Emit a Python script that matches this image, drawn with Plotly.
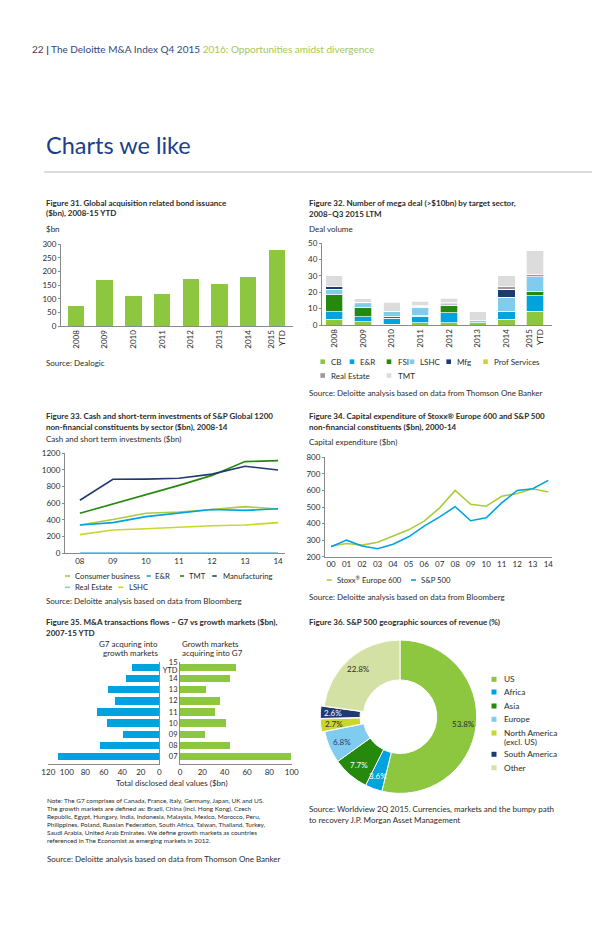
import math
import plotly.graph_objects as go

# The page body adds an 8px margin, so the figure is drawn 8px in and 8px smaller.
OX, OY = 8, 8
FW, FH = 592, 927


def X(px):
    return (px - OX) / FW


def Y(py):
    return 1 - (py - OY) / FH


FONT = "Lato"
TXT = "#2b2b2b"
AXIS = "#8a8a8a"

GREEN = "#8DC63F"
BLUE = "#00A3E0"
DKGREEN = "#26890D"
LTBLUE = "#7FCCEE"
NAVY = "#1F3A70"
YELLOW = "#C9D62E"
GREY = "#97999B"
LTGREY = "#DCDCDC"
PALE = "#D3E2A4"
LIME = "#AACB3C"

# ---------------- data ----------------
# Figure 31
fig31_years = ["2008", "2009", "2010", "2011", "2012", "2013", "2014", "2015<br>YTD"]
fig31_bond_issuance = [72, 169, 110, 118, 173, 153, 180, 279]

# Figure 32 (deal counts by sector)
fig32_years = ["2008", "2009", "2010", "2011", "2012", "2013", "2014", "2015<br>YTD"]
fig32_sectors = ["CB", "E&R", "FSI", "LSHC", "Mfg", "Prof Services", "Real Estate", "TMT"]
fig32_cb = [3.5, 2, 0.5, 1.5, 1.5, 1.5, 3.5, 8.5]
fig32_er = [4.5, 3, 3.5, 4, 6, 0, 4.5, 9.5]
fig32_fsi = [10.5, 6, 1.5, 0.5, 4.5, 0, 0.5, 2.5]
fig32_lshc = [3.5, 2, 2.5, 5, 0.5, 1, 8.5, 9]
fig32_mfg = [1.5, 1, 0.5, 0.5, 0.5, 0, 4.5, 0]
fig32_prof = [0, 0, 0, 0, 0, 0, 0.5, 0]
fig32_realestate = [0, 0, 0, 0.5, 0.5, 0, 1.5, 1.5]
fig32_tmt = [6.5, 2, 5.5, 2.5, 3, 5.5, 6.5, 14.5]

# Figure 33
fig33_years = ["08", "09", "10", "11", "12", "13", "14"]
fig33_consumer = [340, 405, 480, 495, 525, 560, 530]
fig33_er = [340, 368, 440, 485, 525, 515, 535]
fig33_tmt = [480, 590, 700, 815, 935, 1100, 1112]
fig33_mfg = [636, 888, 890, 900, 950, 1045, 1000]
fig33_realestate = [5, 5, 5, 5, 5, 5, 5]
fig33_lshc = [224, 280, 295, 315, 330, 340, 368]

# Figure 34
fig34_years = ["00", "01", "02", "03", "04", "05", "06", "07", "08", "09", "10", "11", "12", "13", "14"]
fig34_stoxx = [265, 280, 270, 287, 325, 362, 415, 495, 600, 516, 505, 565, 582, 610, 590]
fig34_sp500 = [260, 300, 265, 248, 275, 320, 385, 440, 502, 417, 435, 525, 600, 610, 661]

# Figure 35
fig35_years = ["07", "08", "09", "10", "11", "12", "13", "14", "15 YTD"]
fig35_g7_into_growth = [110, 64, 39, 57, 67, 48, 55, 36, 30]
fig35_growth_into_g7 = [99, 45, 22, 41.5, 31.5, 35.5, 23, 45, 50.5]

# Figure 36
fig36_regions = ["US", "Africa", "Asia", "Europe", "North America (excl. US)", "South America", "Other"]
fig36_shares = [53.8, 3.6, 7.7, 6.8, 2.7, 2.6, 22.8]

fig = go.Figure()

# ---------------- Figure 31 ----------------
fig.add_trace(go.Bar(x=fig31_years, y=fig31_bond_issuance, marker_color=GREEN,
                     width=0.57, xaxis="x", yaxis="y", showlegend=False))

# ---------------- Figure 32 ----------------
fig32_series = [fig32_cb, fig32_er, fig32_fsi, fig32_lshc, fig32_mfg,
                fig32_prof, fig32_realestate, fig32_tmt]
fig32_colors = [GREEN, BLUE, DKGREEN, LTBLUE, NAVY, YELLOW, GREY, LTGREY]
for name, vals, col in zip(fig32_sectors, fig32_series, fig32_colors):
    fig.add_trace(go.Bar(x=fig32_years, y=vals, name=name,
                         marker=dict(color=col, line=dict(color="white", width=0.7)),
                         width=0.6, xaxis="x2", yaxis="y2", showlegend=False))

# ---------------- Figure 33 ----------------
fig33_series = [("Real Estate", fig33_realestate, LTBLUE),
                ("LSHC", fig33_lshc, YELLOW),
                ("Consumer business", fig33_consumer, LIME),
                ("E&R", fig33_er, BLUE),
                ("TMT", fig33_tmt, DKGREEN),
                ("Manufacturing", fig33_mfg, NAVY)]
for name, vals, col in fig33_series:
    fig.add_trace(go.Scatter(x=fig33_years, y=vals, name=name, mode="lines",
                             line=dict(color=col, width=1.6), xaxis="x3", yaxis="y3",
                             showlegend=False, cliponaxis=False))

# ---------------- Figure 34 ----------------
fig.add_trace(go.Scatter(x=fig34_years, y=fig34_stoxx, mode="lines", name="Stoxx Europe 600",
                         line=dict(color=LIME, width=1.6), xaxis="x4", yaxis="y4", showlegend=False))
fig.add_trace(go.Scatter(x=fig34_years, y=fig34_sp500, mode="lines", name="S&P 500",
                         line=dict(color=BLUE, width=1.6), xaxis="x4", yaxis="y4", showlegend=False))

# ---------------- Figure 35 ----------------
fig35_pos = list(range(len(fig35_years)))
fig.add_trace(go.Bar(y=fig35_pos, x=fig35_g7_into_growth, orientation="h", marker_color=BLUE,
                     width=0.67, xaxis="x5", yaxis="y5", showlegend=False))
fig.add_trace(go.Bar(y=fig35_pos, x=fig35_growth_into_g7, orientation="h", marker_color=GREEN,
                     width=0.67, xaxis="x6", yaxis="y6", showlegend=False))
# tick labels: two-word labels are split over two lines centred on the bar
f35_tickvals, f35_ticktext = [], []
for p, lab in zip(fig35_pos, fig35_years):
    parts = lab.split(" ")
    if len(parts) == 1:
        f35_tickvals.append(p)
        f35_ticktext.append(lab)
    else:
        f35_tickvals += [p + 0.44, p - 0.31]
        f35_ticktext += parts

# ---------------- Figure 36 ----------------
pie_colors = [GREEN, BLUE, DKGREEN, LTBLUE, YELLOW, NAVY, PALE]
pie_text_colors = [TXT, "white", "white", "#1F3A70", TXT, "white", TXT]
pull = [0, 0, 0, 0, 0.04, 0.04, 0]
HOLE = 0.48
cx, cy, r = 400, 716.7, 76.7
half = r * (1 + max(pull))
fig.add_trace(go.Pie(labels=fig36_regions, values=fig36_shares, hole=HOLE, sort=False,
                     direction="clockwise", rotation=0, pull=pull,
                     marker=dict(colors=pie_colors, line=dict(color="white", width=1)),
                     textinfo="none",
                     domain=dict(x=[X(cx - half), X(cx + half)], y=[Y(cy + half), Y(cy - half)]),
                     showlegend=False, hoverinfo="label+value"))

# ---------------- axes ----------------
tickfont = dict(family=FONT, size=8, color=TXT)


def xax(domain, rng, anchor, **kw):
    d = dict(domain=domain, range=rng, anchor=anchor, showline=True, linecolor=AXIS,
             linewidth=1, showgrid=False, zeroline=False, tickfont=tickfont, ticks="",
             fixedrange=True, automargin=False)
    d.update(kw)
    return d


def yax(domain, rng, anchor, **kw):
    d = dict(domain=domain, range=rng, anchor=anchor, showline=True, linecolor=AXIS,
             linewidth=1, showgrid=False, zeroline=False, tickfont=tickfont,
             ticks="outside", ticklen=2, tickcolor=AXIS, fixedrange=True, automargin=False)
    d.update(kw)
    return d


fig.update_layout(
    xaxis=xax([X(61), X(293)], [-0.52, 7.56], "y", type="category", tickangle=-90),
    yaxis=yax([Y(326), Y(244.3)], [0, 300], "x", dtick=50),
    xaxis2=xax([X(322), X(552)], [-0.43, 7.59], "y2", type="category", tickangle=-90),
    yaxis2=yax([Y(325), Y(243.3)], [0, 50], "x2", dtick=10),
    xaxis3=xax([X(65), X(285)], [-0.45, 6.21], "y3", type="category", layer="below traces"),
    yaxis3=yax([Y(553.3), Y(453.3)], [0, 1200], "x3", dtick=200),
    xaxis4=xax([X(325), X(552)], [-0.39, 14.24], "y4", type="category"),
    yaxis4=yax([Y(556.7), Y(457.3)], [200, 800], "x4", dtick=100),
    xaxis5=xax([X(48.3), X(159.3)], [120, 0], "y5", dtick=20),
    yaxis5=yax([Y(764), Y(661.7)], [-0.65, 8.5], "x5", side="right",
               showticklabels=False, ticks=""),
    xaxis6=xax([X(180), X(291.7)], [0, 100], "y6", dtick=20),
    yaxis6=yax([Y(764), Y(661.7)], [-0.65, 8.5], "x6", side="left", ticks="",
               tickmode="array", tickvals=f35_tickvals, ticktext=f35_ticktext,
               tickfont=dict(family=FONT, size=7.5, color=TXT)),
)

# ---------------- text ----------------
ann = []


def txt(s, x, y, size=8, color=TXT, bold=False, anchor="left"):
    if bold:
        s = "<b>" + s + "</b>"
    ann.append(dict(text=s, x=X(x), y=Y(y), xref="paper", yref="paper", xanchor=anchor,
                    yanchor="middle", showarrow=False, align=anchor,
                    font=dict(family=FONT, size=size, color=color)))


# header
txt("<span style='color:#444444'>22</span> <b style='color:#1F3B73'>|</b> "
    "<span style='color:#2E4A7D'>The Deloitte M&A Index Q4 2015</span> "
    "<span style='color:#A5C65A'>2016: Opportunities amidst divergence</span>",
    30, 49, size=10)
txt("Charts we like", 44, 145, size=23.5, color="#1B3F8B")

# Figure 31
txt("Figure 31. Global acquisition related bond issuance", 44.3, 202.7, bold=True)
txt("($bn), 2008-15 YTD", 44.3, 213.5, bold=True)
txt("$bn", 44.3, 229.3)
txt("Source: Dealogic", 44.3, 363.3)

# Figure 32
txt("Figure 32. Number of mega deal (>$10bn) by target sector,", 307.3, 203.3, bold=True)
txt("2008–Q3 2015 LTM", 307.3, 214, bold=True)
txt("Deal volume", 307.3, 229.3)
txt("Source: Deloitte analysis based on data from Thomson One Banker", 307.3, 392.7)

# Figure 33
txt("Figure 33. Cash and short-term investments of S&P Global 1200", 44.3, 415.7, bold=True)
txt("non-financial constituents by sector ($bn), 2008-14", 44.3, 426.7, bold=True)
txt("Cash and short term investments ($bn)", 44.3, 439.3)
txt("Source: Deloitte analysis based on data from Bloomberg", 44.3, 601)

# Figure 34
txt("Figure 34. Capital expenditure of Stoxx® Europe 600 and S&P 500", 307.3, 415.7, bold=True)
txt("non-financial constituents ($bn), 2000-14", 307.3, 426.7, bold=True)
txt("Capital expenditure ($bn)", 307.3, 442.3)
txt("Source: Deloitte analysis based on data from Bloomberg", 307.3, 596.7)

# Figure 35
txt("Figure 35. M&A transactions flows – G7 vs growth markets ($bn),", 44.3, 622.3, bold=True)
txt("2007-15 YTD", 44.3, 632.7, bold=True)
txt("G7 acquring into", 160, 644, anchor="right")
txt("growth markets", 160, 653.3, anchor="right")
txt("Growth markets", 180, 644)
txt("acquiring into G7", 180, 653.3)
txt("Total disclosed deal values ($bn)", 172, 783, anchor="center")

# Figure 36
txt("Figure 36. S&P 500 geographic sources of revenue (%)", 307.3, 622.3, bold=True)
txt("Source: Worldview 2Q 2015. Currencies, markets and the bumpy path", 307.3, 809)
txt("to recovery J.P. Morgan Asset Management", 307.3, 820)

# pie percentage labels placed along each slice's mid-angle
total = sum(fig36_shares)
cum = 0.0
for share, tc, pl in zip(fig36_shares, pie_text_colors, pull):
    mid = (cum + share / 2) / total * 2 * math.pi
    cum += share
    rr = r * (0.83 + pl)
    txt(f"{share:.1f}%", cx + rr * math.sin(mid), cy - rr * math.cos(mid), size=8,
        color=tc, anchor="center")

# Notes
notes = ["Note: The G7 comprises of Canada, France, Italy, Germany, Japan, UK and US.",
         "The growth markets are defined as: Brazil, China (incl. Hong Kong), Czech",
         "Republic, Egypt, Hungary, India, Indonesia, Malaysia, Mexico, Morocco, Peru,",
         "Philippines, Poland, Russian Federation, South Africa, Taiwan, Thailand, Turkey,",
         "Saudi Arabia, United Arab Emirates. We define growth markets as countries",
         "referenced in The Economist as emerging markets in 2012."]
for i, line in enumerate(notes):
    txt(line, 45, 800 + i * 8.1, size=6.4)
txt("Source: Deloitte analysis based on data from Thomson One Banker", 45, 859.3)

# ---------------- legends (manual) ----------------
shapes = []


def sq(x, y, col, s=4.6):
    shapes.append(dict(type="rect", xref="paper", yref="paper", x0=X(x - s / 2), x1=X(x + s / 2),
                       y0=Y(y + s / 2), y1=Y(y - s / 2), fillcolor=col, line=dict(width=0)))


def dash(x0, x1, y, col):
    shapes.append(dict(type="line", xref="paper", yref="paper", x0=X(x0), x1=X(x1),
                       y0=Y(y), y1=Y(y), line=dict(color=col, width=1.6)))


# Figure 32 legend
leg32 = [("CB", GREEN, 322.7, 329, 361.7), ("E&R", BLUE, 352, 357.5, 361.7),
         ("FSI", DKGREEN, 389, 395.5, 361.7), ("LSHC", LTBLUE, 412, 418, 361.7),
         ("Mfg", NAVY, 448.7, 455, 361.7), ("Prof Services", YELLOW, 485.5, 492, 361.7),
         ("Real Estate", GREY, 322.7, 329, 375.5), ("TMT", LTGREY, 389, 395.5, 375.5)]
for name, col, sx, tx, ty in leg32:
    sq(sx, ty, col)
    txt(name, tx, ty)

# Figure 33 legend
leg33 = [("Consumer business", LIME, 65, 70, 72.7, 576), ("E&R", BLUE, 146.7, 150.7, 152.7, 576),
         ("TMT", DKGREEN, 180, 184, 186.7, 576), ("Manufacturing", NAVY, 212.3, 216.7, 220.7, 576),
         ("Real Estate", LTBLUE, 65, 70, 72.7, 587.3), ("LSHC", YELLOW, 118.3, 123.3, 127, 587.3)]
for name, col, d0, d1, tx, ty in leg33:
    dash(d0, d1, ty, col)
    txt(name, tx, ty, size=7.7)

# Figure 34 legend
dash(326.7, 331.7, 580, LIME)
txt("Stoxx<sup>®</sup> Europe 600", 335, 580, size=7.7)
dash(411, 416, 580, BLUE)
txt("S&P 500", 418.5, 580, size=7.7)

# Figure 36 legend
leg36 = [("US", GREEN, 679.3), ("Africa", BLUE, 692), ("Asia", DKGREEN, 706),
         ("Europe", LTBLUE, 719.3), ("North America", YELLOW, 733),
         ("South America", NAVY, 754.3), ("Other", PALE, 767.7)]
for name, col, ty in leg36:
    sq(494, ty, col, s=5)
    txt(name, 501.7, ty, size=8.3)
txt("(excl. US)", 501.7, 742, size=8.3)

# rule under title
shapes.append(dict(type="line", xref="paper", yref="paper", x0=X(44), x1=X(600), y0=Y(172),
                   y1=Y(172), line=dict(color="#BBBBBB", width=1)))

fig.update_layout(
    template="none",
    width=FW, height=FH, margin=dict(l=0, r=0, t=0, b=0, pad=0, autoexpand=False),
    paper_bgcolor="white", plot_bgcolor="white",
    font=dict(family=FONT, size=8, color=TXT),
    barmode="stack", showlegend=False,
    annotations=ann, shapes=shapes,
)

fig.write_html("out.html")
